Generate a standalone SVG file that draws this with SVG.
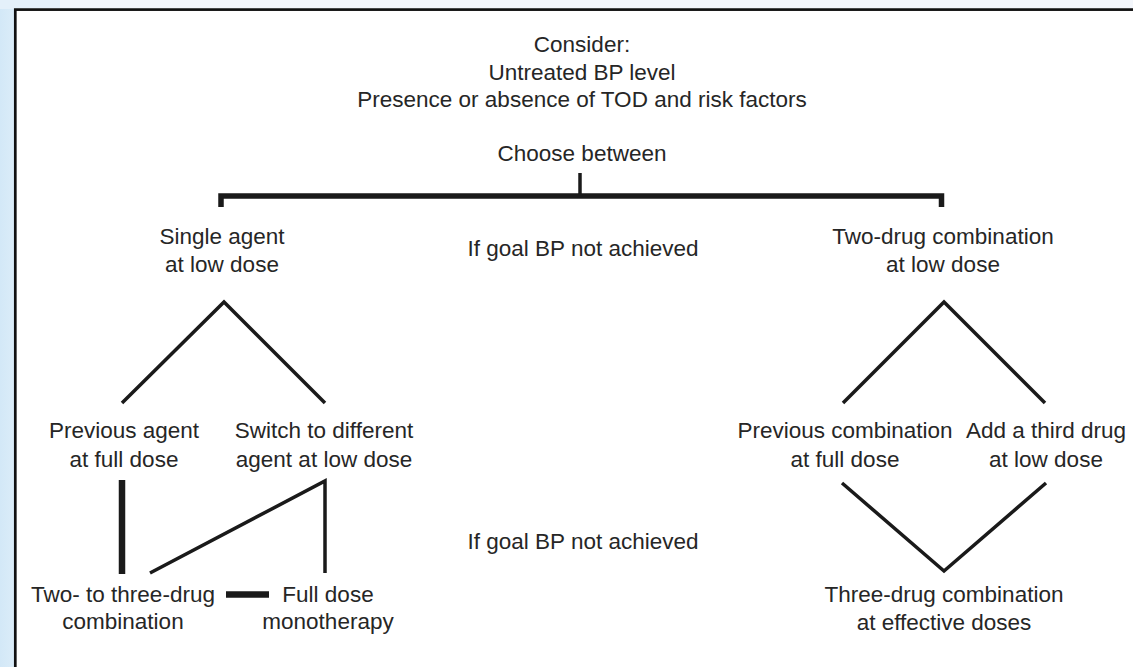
<svg xmlns="http://www.w3.org/2000/svg" width="1133" height="667" viewBox="0 0 1133 667">
  <style>
    text { font-family: "Liberation Sans", Arial, Helvetica, sans-serif; font-size: 22.5px; fill: #262626; text-anchor: middle; }
    .ln { stroke: #1a1a1a; stroke-width: 3.5; fill: none; stroke-linecap: butt; stroke-linejoin: miter; }
    .thick { stroke: #1a1a1a; stroke-width: 6.5; fill: none; }
  </style>
  <defs>
    <linearGradient id="side" x1="0" y1="0" x2="1" y2="0">
      <stop offset="0" stop-color="#d3e8f7"/>
      <stop offset="1" stop-color="#dcedf9"/>
    </linearGradient>
  </defs>
  <!-- page background -->
  <rect x="0" y="0" width="1133" height="667" fill="#f3f6fb"/>
  <rect x="0" y="0" width="16" height="667" fill="url(#side)"/>
  <rect x="0" y="0" width="60" height="9" fill="#e4f0fa"/>
  <!-- frame -->
  <rect x="15.3" y="9.6" width="1140" height="680" fill="#ffffff" stroke="#111" stroke-width="2.7"/>

  <g id="connectors">
    <!-- choose-between bracket -->
    <path class="ln" d="M580 173 V196" stroke-width="4.5"/>
    <path d="M221 207 V196 H941.5 V207" fill="none" stroke="#1a1a1a" stroke-width="5.5"/>
    <!-- left branch -->
    <path class="ln" d="M122 403 L224 302 L325 403"/>
    <!-- right branch -->
    <path class="ln" d="M843 403 L944 302 L1045 403"/>
    <!-- lower left -->
    <path class="thick" d="M122 480 V574"/>
    <path class="ln" d="M150 573 L325 481 V573"/>
    <path class="thick" d="M226 594.5 H269" stroke-width="6"/>
    <!-- lower right -->
    <path class="ln" d="M842 483 L944 571 L1046 483"/>
  </g>

  <g id="consider">
    <text x="582" y="52">Consider:</text>
    <text x="582" y="80">Untreated BP level</text>
    <text x="582" y="107">Presence or absence of TOD and risk factors</text>
  </g>
  <g id="choose">
    <text x="582" y="161">Choose between</text>
  </g>
  <g id="single-agent">
    <text x="222" y="244">Single agent</text>
    <text x="222" y="272">at low dose</text>
  </g>
  <g id="two-drug">
    <text x="943" y="244">Two-drug combination</text>
    <text x="943" y="272">at low dose</text>
  </g>
  <g id="goal1">
    <text x="583" y="256">If goal BP not achieved</text>
  </g>
  <g id="prev-agent">
    <text x="124" y="438">Previous agent</text>
    <text x="124" y="467">at full dose</text>
  </g>
  <g id="switch-agent">
    <text x="324" y="438">Switch to different</text>
    <text x="324" y="467">agent at low dose</text>
  </g>
  <g id="prev-combo">
    <text x="845" y="438">Previous combination</text>
    <text x="845" y="467">at full dose</text>
  </g>
  <g id="third-drug">
    <text x="1046" y="438">Add a third drug</text>
    <text x="1046" y="467">at low dose</text>
  </g>
  <g id="goal2">
    <text x="583" y="549">If goal BP not achieved</text>
  </g>
  <g id="two-three">
    <text x="123" y="602">Two- to three-drug</text>
    <text x="123" y="629">combination</text>
  </g>
  <g id="full-mono">
    <text x="328" y="602">Full dose</text>
    <text x="328" y="629">monotherapy</text>
  </g>
  <g id="three-drug">
    <text x="944" y="602">Three-drug combination</text>
    <text x="944" y="630">at effective doses</text>
  </g>
</svg>
